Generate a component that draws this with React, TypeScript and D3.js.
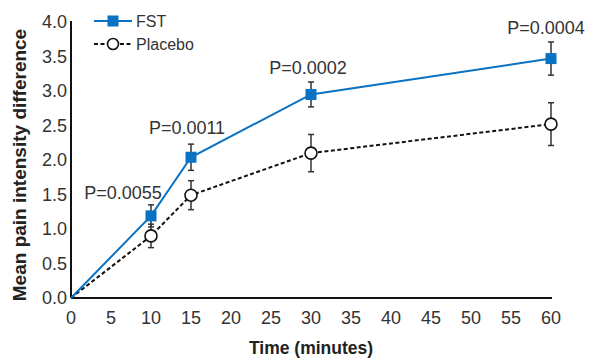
import { useRef, useEffect } from "react";
import * as d3 from "d3";

const times = [0, 10, 15, 30, 60];
const fstMean = [0, 1.19, 2.04, 2.95, 3.47];
const fstErr = [0, 0.16, 0.19, 0.18, 0.24];
const placeboMean = [0, 0.9, 1.49, 2.1, 2.52];
const placeboErr = [0, 0.17, 0.21, 0.27, 0.31];
const pLabels = ["P=0.0055", "P=0.0011", "P=0.0002", "P=0.0004"];
const pTimes = [10, 15, 30, 60];
const pValuesAt = [1.44, 2.38, 3.25, 3.82];
const xTicks = d3.range(0, 61, 5);
const yTicks = d3.range(0, 4.01, 0.5);

const BLUE = "#0a72c2";
const FONT = "'Liberation Sans', Arial, sans-serif";

export default function App() {
  const svgRef = useRef<SVGSVGElement>(null);

  useEffect(() => {
    if (!svgRef.current) return;
    const svg = d3.select(svgRef.current);
    svg.selectAll("*").remove();

    const W = 600, H = 360;
    const m = { top: 22, right: 49, bottom: 62, left: 71 };
    const iW = W - m.left - m.right;
    const iH = H - m.top - m.bottom;

    const x = d3.scaleLinear().domain([0, 60]).range([0, iW]);
    const y = d3.scaleLinear().domain([0, 4]).range([iH, 0]);

    const g = svg.append("g").attr("transform", `translate(${m.left},${m.top})`);

    // axes
    g.append("line").attr("x1", 0).attr("x2", 0).attr("y1", -1).attr("y2", iH)
      .attr("stroke", "#111").attr("stroke-width", 2);
    g.append("line").attr("x1", 0).attr("x2", iW + 1).attr("y1", iH).attr("y2", iH)
      .attr("stroke", "#111").attr("stroke-width", 2);

    g.selectAll(".yt").data(yTicks).enter().append("text")
      .attr("x", -4).attr("y", d => y(d)).attr("dy", "0.36em")
      .attr("text-anchor", "end").attr("font-family", FONT).attr("font-size", 18)
      .attr("fill", "#333").text(d => d.toFixed(1));

    g.selectAll(".xt").data(xTicks).enter().append("text")
      .attr("x", d => x(d)).attr("y", iH + 26)
      .attr("text-anchor", "middle").attr("font-family", FONT).attr("font-size", 18)
      .attr("fill", "#333").text(d => d);

    g.append("text").attr("x", 311 - m.left).attr("y", iH + 56)
      .attr("text-anchor", "middle").attr("font-family", FONT).attr("font-size", 17.5)
      .attr("font-weight", "bold").attr("fill", "#222").text("Time (minutes)");

    g.append("text").attr("transform", "rotate(-90)").attr("x", -(165 - m.top)).attr("y", -45)
      .attr("text-anchor", "middle").attr("font-family", FONT).attr("font-size", 19)
      .attr("font-weight", "bold").attr("fill", "#222").text("Mean pain intensity difference");

    const line = d3.line<number>().x((_, i) => x(times[i])).y(d => y(d));

    // placebo
    g.append("path").datum(placeboMean).attr("d", line).attr("fill", "none")
      .attr("stroke", "#111").attr("stroke-width", 2).attr("stroke-dasharray", "4 2.5");
    // fst
    g.append("path").datum(fstMean).attr("d", line).attr("fill", "none")
      .attr("stroke", BLUE).attr("stroke-width", 2);

    const errBars = (mean: number[], err: number[]) => {
      times.forEach((t, i) => {
        if (i === 0) return;
        const cx = x(t);
        const y1 = y(mean[i] + err[i]), y2 = y(mean[i] - err[i]);
        g.append("line").attr("x1", cx).attr("x2", cx).attr("y1", y1).attr("y2", y2)
          .attr("stroke", "#333").attr("stroke-width", 1.5);
        [y1, y2].forEach(yy => g.append("line").attr("x1", cx - 3).attr("x2", cx + 3)
          .attr("y1", yy).attr("y2", yy).attr("stroke", "#333").attr("stroke-width", 1.5));
      });
    };
    errBars(placeboMean, placeboErr);
    errBars(fstMean, fstErr);

    times.forEach((t, i) => {
      if (i === 0) return;
      g.append("circle").attr("cx", x(t)).attr("cy", y(placeboMean[i])).attr("r", 6)
        .attr("fill", "#fff").attr("stroke", "#111").attr("stroke-width", 1.6);
    });
    times.forEach((t, i) => {
      if (i === 0) return;
      g.append("rect").attr("x", x(t) - 5.5).attr("y", y(fstMean[i]) - 5.5)
        .attr("width", 11).attr("height", 11).attr("fill", BLUE);
    });

    // p-values
    const pShift = [-28, -4, -3, -5];
    pLabels.forEach((p, i) => {
      g.append("text").attr("x", x(pTimes[i]) + pShift[i]).attr("y", y(pValuesAt[i]))
        .attr("text-anchor", "middle").attr("font-family", FONT).attr("font-size", 18)
        .attr("fill", "#333").text(p);
    });

    // legend
    const lg = svg.append("g").attr("transform", "translate(94,21)");
    lg.append("line").attr("x1", 0).attr("x2", 38).attr("y1", 0).attr("y2", 0)
      .attr("stroke", BLUE).attr("stroke-width", 2);
    lg.append("rect").attr("x", 13.5).attr("y", -5.5).attr("width", 11).attr("height", 11).attr("fill", BLUE);
    lg.append("text").attr("x", 42).attr("y", 0).attr("dy", "0.36em").attr("font-family", FONT)
      .attr("font-size", 16).attr("fill", "#333").text("FST");
    lg.append("line").attr("x1", 0).attr("x2", 38).attr("y1", 23).attr("y2", 23)
      .attr("stroke", "#111").attr("stroke-width", 2).attr("stroke-dasharray", "4 2.5");
    lg.append("circle").attr("cx", 19).attr("cy", 23).attr("r", 5.5)
      .attr("fill", "#fff").attr("stroke", "#111").attr("stroke-width", 1.6);
    lg.append("text").attr("x", 42).attr("y", 23).attr("dy", "0.36em").attr("font-family", FONT)
      .attr("font-size", 16).attr("fill", "#333").text("Placebo");
  }, []);

  return (
    <svg ref={svgRef} width={600} height={360}
      style={{ position: "absolute", left: 0, top: 0, background: "#fff" }} />
  );
}
